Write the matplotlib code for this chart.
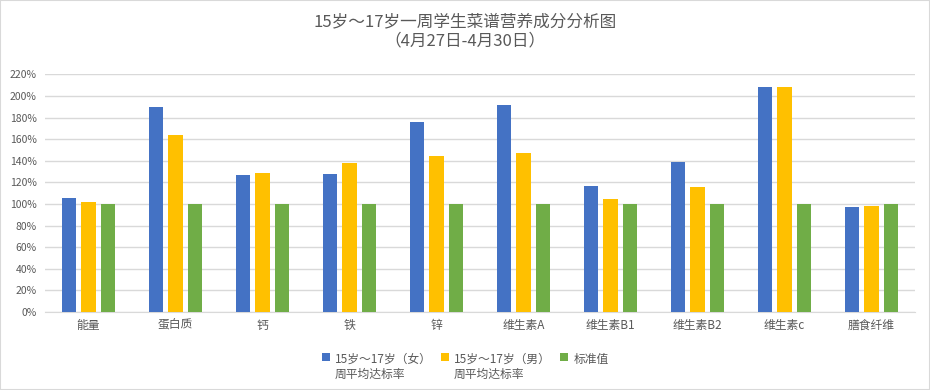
import numpy as np
import matplotlib
matplotlib.use("Agg")
import matplotlib.pyplot as plt
from matplotlib.patches import Rectangle
from matplotlib.ticker import PercentFormatter

plt.rcParams["font.family"] = ["Noto Sans CJK SC", "DejaVu Sans"]

categories = ["能量", "蛋白质", "钙", "铁", "锌", "维生素A", "维生素B1", "维生素B2", "维生素c", "膳食纤维"]
female = [106, 190, 127, 128, 176, 192, 117, 139, 208, 97]
male = [102, 164, 129, 138, 144, 147, 105, 116, 208, 98]
standard = [100, 100, 100, 100, 100, 100, 100, 100, 100, 100]
series_names = ["15岁～17岁（女）\n周平均达标率", "15岁～17岁（男）\n周平均达标率", "标准值"]
colors = ["#4472C4", "#FFC000", "#70AD47"]

fig = plt.figure(figsize=(9.3, 3.9), dpi=100)
ax = fig.add_axes([45 / 930, 0.2, 870 / 930, (312 - 74.4) / 390])

x = np.arange(len(categories))
width = 0.172
step = 0.224
for i, (vals, name, c) in enumerate(zip([female, male, standard], series_names, colors)):
    ax.bar(x + (i - 1) * step, vals, width, color=c, label=name, zorder=3)

ax.set_xlim(-0.5, len(categories) - 0.5)
ax.set_ylim(0, 220)
ax.set_yticks(np.arange(0, 221, 20))
ax.yaxis.set_major_formatter(PercentFormatter(decimals=0))
ax.set_xticks(x)
ax.set_xticklabels(categories)
ax.tick_params(axis="both", length=0, colors="#595959")
ax.tick_params(axis="y", labelsize=7.5, pad=6)
ax.tick_params(axis="x", labelsize=8.5, pad=5)
ax.grid(axis="y", color="#d9d9d9", linewidth=1, zorder=0)
for s in ["top", "right", "left"]:
    ax.spines[s].set_visible(False)
ax.spines["bottom"].set_color("#d9d9d9")

fig.text(0.5, 0.965, "15岁～17岁一周学生菜谱营养成分分析图\n（4月27日-4月30日）",
         ha="center", va="top", fontsize=12, color="#595959", linespacing=1.15)

leg = fig.legend(loc="lower center", bbox_to_anchor=(0.5, 0.0), ncol=3, frameon=False,
                 fontsize=8.5, labelcolor="#595959", handlelength=0.7, handleheight=0.7,
                 handletextpad=0.4, columnspacing=0.8, borderaxespad=0.4)
# put the colour squares next to the first line of each label
leg._legend_handle_box.align = "top"
for col in leg._legend_handle_box.get_children():
    for item in col.get_children():
        item.align = "top"

fig.patches.append(Rectangle((0, 0), 1, 1, transform=fig.transFigure, fill=False,
                             edgecolor="#d9d9d9", linewidth=1.5))

fig.savefig("out.png", dpi=100)
